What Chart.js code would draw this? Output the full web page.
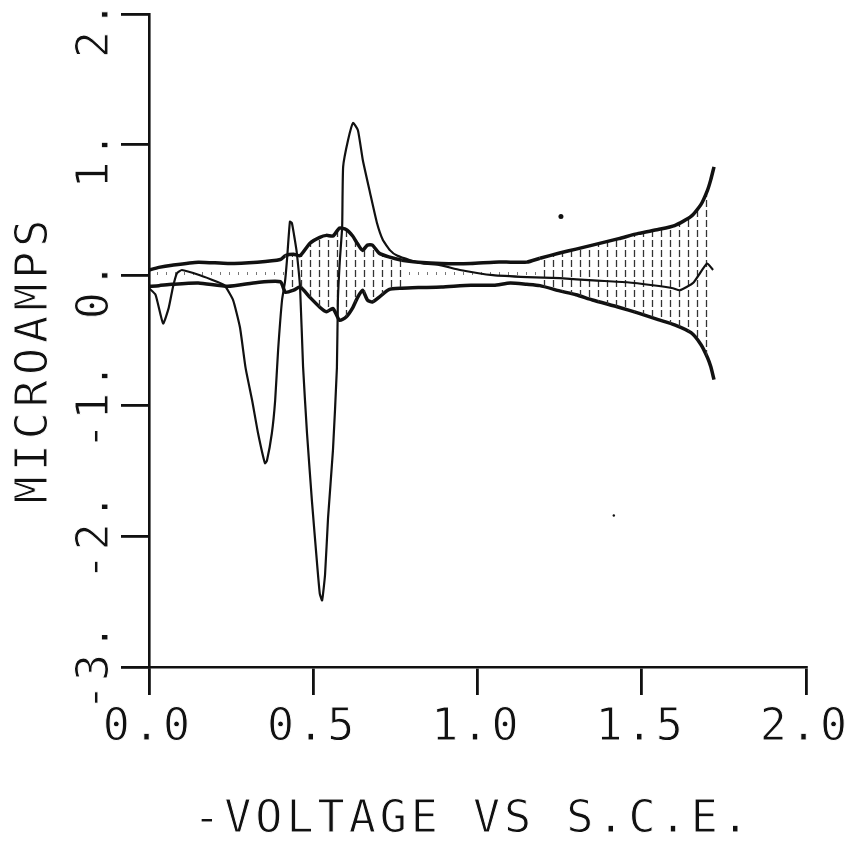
<!DOCTYPE html>
<html lang="en">
<head>
  <meta charset="UTF-8" />
  <title>Microamps vs voltage</title>
  <style>
    html, body { margin: 0; padding: 0; background: #fff; }
    canvas { display: block; }
  </style>
</head>
<body>
  <canvas id="plot" width="848" height="844"></canvas>

  <script src="https://cdn.jsdelivr.net/npm/chart.js"></script>
  <script>
    // envelope of the shaded band (same x for both edges)
    const envX = [0, 0.03, 0.07, 0.15, 0.24, 0.33, 0.40, 0.415, 0.44, 0.46, 0.49, 0.52, 0.54, 0.56, 0.58, 0.60,
      0.62, 0.635, 0.65, 0.665, 0.68, 0.70, 0.73, 0.77, 0.82, 0.89, 0.98, 1.05, 1.10, 1.15, 1.19, 1.25,
      1.30, 1.35, 1.43, 1.49, 1.55, 1.60, 1.65, 1.68, 1.70, 1.71, 1.72];
    const envUpper = [0.04, 0.06, 0.077, 0.10, 0.09, 0.10, 0.12, 0.15, 0.16, 0.15, 0.245, 0.29, 0.305, 0.30, 0.36, 0.35,
      0.30, 0.24, 0.19, 0.23, 0.23, 0.17, 0.14, 0.115, 0.10, 0.09, 0.09, 0.10, 0.10, 0.10, 0.13, 0.17,
      0.20, 0.23, 0.28, 0.32, 0.35, 0.38, 0.45, 0.54, 0.65, 0.73, 0.83];
    const envLower = [-0.085, -0.08, -0.07, -0.06, -0.085, -0.055, -0.05, -0.13, -0.115, -0.09, -0.17, -0.245, -0.28, -0.255, -0.345, -0.32,
      -0.25, -0.17, -0.115, -0.19, -0.205, -0.17, -0.11, -0.10, -0.095, -0.09, -0.077, -0.077, -0.06, -0.07, -0.08, -0.12,
      -0.15, -0.19, -0.245, -0.29, -0.34, -0.38, -0.44, -0.53, -0.63, -0.70, -0.80];

    // the thin sweep trace with the big peaks
    const traceX = [0, 0.02, 0.043, 0.06, 0.073, 0.085, 0.10, 0.155, 0.207, 0.23, 0.256, 0.277, 0.294, 0.314, 0.332, 0.353,
      0.359, 0.374, 0.384, 0.393, 0.405, 0.414, 0.42, 0.429, 0.435, 0.444, 0.45, 0.46, 0.469, 0.481, 0.496, 0.511,
      0.52, 0.527, 0.536, 0.545, 0.56, 0.572, 0.575, 0.581, 0.588, 0.591, 0.606, 0.621, 0.636, 0.651, 0.673, 0.694,
      0.712, 0.734, 0.755, 0.795, 0.834, 0.886, 0.947, 1.047, 1.151, 1.251, 1.352, 1.455, 1.534, 1.595, 1.616, 1.656,
      1.699, 1.717];
    const traceY = [-0.10, -0.15, -0.37, -0.25, -0.09, 0.015, 0.04, 0.0, -0.05, -0.077, -0.19, -0.40, -0.71, -0.96, -1.21, -1.44,
      -1.42, -1.21, -0.96, -0.575, -0.19, -0.05, 0.115, 0.41, 0.40, 0.27, 0.17, -0.10, -0.70, -1.21, -1.73, -2.19,
      -2.44, -2.49, -2.29, -1.86, -1.34, -0.71, -0.19, 0.115, 0.37, 0.83, 1.035, 1.166, 1.11, 0.88, 0.63, 0.40,
      0.27, 0.19, 0.15, 0.115, 0.09, 0.077, 0.04, 0.0, -0.015, -0.023, -0.04, -0.054, -0.077, -0.10, -0.115, -0.06,
      0.09, 0.04];

    // stray pen dots on the original sheet
    const speckX = [1.254, 1.415];
    const speckY = [0.45, -1.84];

    const xTicks = [0, 0.5, 1.0, 1.5, 2.0];
    const yTicks = [-3, -2, -1, 0, 1, 2];
    const yLabels = ['-3.', '-2.', '-1.', '0.', '1.', '2.'];
    const xTitle = '-VOLTAGE VS S.C.E.';
    const yTitle = 'MICROAMPS';

    const ink = '#111';
    const plotFont = '45px "DejaVu Sans Mono"';

    const pts = (xs, ys) => xs.map((v, i) => ({ x: v, y: ys[i] }));

    function hatchPattern(ctx, h, dash, width, color) {
      const c = document.createElement('canvas');
      c.width = 9; c.height = h;
      const g = c.getContext('2d');
      g.strokeStyle = color;
      g.lineWidth = width;
      g.beginPath();
      g.moveTo(4.5, 0);
      g.lineTo(4.5, dash);
      g.stroke();
      return ctx.createPattern(c, 'repeat');
    }

    // hatching is heavy where the band is wide, faint where it is thin
    const heavyHatch = x => (x > 0.42 && x < 0.78) || x > 1.18;

    // tick labels and axis titles in the plotter lettering
    function plotterWrite(ctx, text, x, y) {
      ctx.fillText(text, x, y);
      ctx.strokeText(text, x, y);
    }

    const plotterText = {
      id: 'plotterText',
      afterDraw(chart) {
        const { ctx, chartArea, scales } = chart;
        const x = scales.x, y = scales.y;
        ctx.save();
        ctx.fillStyle = ink;
        ctx.strokeStyle = '#fff';
        ctx.lineWidth = 1;
        ctx.font = plotFont;
        ctx.textBaseline = 'alphabetic';

        ctx.letterSpacing = '3px';
        ctx.textAlign = 'center';
        x.ticks.forEach(t => {
          plotterWrite(ctx, t.value.toFixed(1), x.getPixelForValue(t.value) - 1, chartArea.bottom + 73);
        });

        ctx.textAlign = 'left';
        y.ticks.forEach(t => {
          const i = yTicks.indexOf(t.value);
          if (i < 0) return;
          ctx.save();
          ctx.translate(chartArea.left - 41, y.getPixelForValue(t.value) + 44);
          ctx.rotate(-Math.PI / 2);
          plotterWrite(ctx, yLabels[i], 0, 0);
          ctx.restore();
        });

        ctx.letterSpacing = '4px';
        ctx.textAlign = 'center';
        plotterWrite(ctx, xTitle, 473, chartArea.bottom + 165);

        ctx.letterSpacing = '5px';
        ctx.save();
        ctx.translate(47, 359);
        ctx.rotate(-Math.PI / 2);
        plotterWrite(ctx, yTitle, 0, 0);
        ctx.restore();

        ctx.restore();
      }
    };

    const canvas = document.getElementById('plot');
    const ctx = canvas.getContext('2d');
    const heavy = hatchPattern(ctx, 10, 7, 1.3, '#333');
    const faint = hatchPattern(ctx, 17, 3, 1, '#777');

    new Chart(ctx, {
      type: 'line',
      data: {
        datasets: [
          {
            label: 'sweep',
            data: pts(traceX, traceY),
            borderColor: ink,
            borderWidth: 2.2,
            tension: 0.15,
            pointRadius: 0,
            fill: false
          },
          {
            label: 'upper',
            data: pts(envX, envUpper),
            borderColor: ink,
            borderWidth: 3.5,
            tension: 0.2,
            pointRadius: 0,
            backgroundColor: heavy,
            segment: {
              backgroundColor: s => heavyHatch((s.p0.parsed.x + s.p1.parsed.x) / 2) ? heavy : faint
            },
            fill: '+1'
          },
          {
            label: 'lower',
            data: pts(envX, envLower),
            borderColor: ink,
            borderWidth: 3.5,
            tension: 0.2,
            pointRadius: 0,
            fill: false
          },
          {
            type: 'scatter',
            label: 'specks',
            data: pts(speckX, speckY),
            backgroundColor: ink,
            borderWidth: 0,
            pointRadius: [2.5, 1.2]
          }
        ]
      },
      options: {
        responsive: false,
        animation: false,
        layout: { padding: { left: 121, top: 14, right: 42, bottom: 149 } },
        plugins: {
          legend: { display: false },
          tooltip: { enabled: false },
          title: { display: false }
        },
        scales: {
          x: {
            type: 'linear',
            min: 0,
            max: 2,
            afterBuildTicks: s => { s.ticks = xTicks.map(v => ({ value: v })); },
            ticks: { display: false },
            grid: { drawOnChartArea: false, drawTicks: true, tickLength: 28, color: ink, lineWidth: 2.8 },
            border: { display: true, color: ink, width: 2.6 }
          },
          y: {
            type: 'linear',
            min: -3,
            max: 2,
            afterBuildTicks: s => { s.ticks = yTicks.map(v => ({ value: v })); },
            ticks: { display: false },
            grid: { drawOnChartArea: false, drawTicks: true, tickLength: 28, color: ink, lineWidth: 2.8 },
            border: { display: true, color: ink, width: 2.6 }
          }
        }
      },
      plugins: [plotterText]
    });
  </script>
</body>
</html>
